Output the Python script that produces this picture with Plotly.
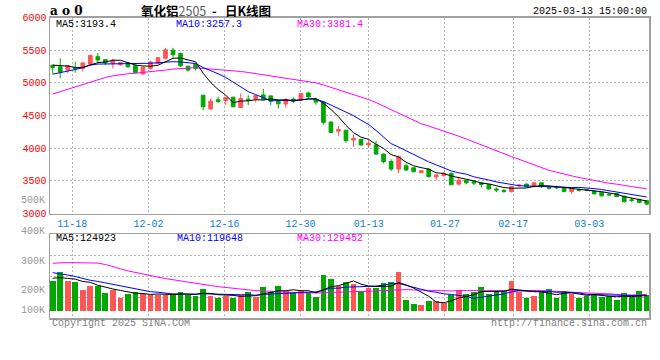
import plotly.graph_objects as go
import pandas as pd

# ---------------- data ----------------
dates = ["11-13", "11-14", "11-15", "11-18", "11-19", "11-20", "11-21", "11-22", "11-25", "11-26",
         "11-27", "11-28", "11-29", "12-02", "12-03", "12-04", "12-05", "12-06", "12-09", "12-10",
         "12-11", "12-12", "12-13", "12-16", "12-17", "12-18", "12-19", "12-20", "12-23", "12-24",
         "12-25", "12-26", "12-27", "12-30", "12-31", "01-02", "01-03", "01-06", "01-07", "01-08",
         "01-09", "01-10", "01-13", "01-14", "01-15", "01-16", "01-17", "01-20", "01-21", "01-22",
         "01-23", "01-24", "01-27", "02-05", "02-06", "02-07", "02-10", "02-11", "02-12", "02-13",
         "02-14", "02-17", "02-18", "02-19", "02-20", "02-21", "02-24", "02-25", "02-26", "02-27",
         "02-28", "03-03", "03-04", "03-05", "03-06", "03-07", "03-10", "03-11", "03-12", "03-13"]

opens = [5270, 5245, 5195, 5235, 5220, 5285, 5400, 5355, 5290, 5275,
         5305, 5265, 5135, 5220, 5295, 5375, 5500, 5450, 5255, 5285,
         4810, 4600, 4740, 4730, 4780, 4620, 4750, 4755, 4815, 4800,
         4720, 4675, 4750, 4735, 4845, 4750, 4705, 4400, 4260, 4275,
         4125, 4135, 4050, 4050, 3910, 3795, 3680, 3730, 3700, 3625,
         3680, 3560, 3580, 3615, 3450, 3510, 3485, 3470, 3445, 3375,
         3355, 3335, 3425, 3450, 3410, 3470, 3400, 3400, 3400, 3335,
         3370, 3365, 3345, 3325, 3295, 3305, 3265, 3210, 3215, 3195]
highs = [5275, 5375, 5270, 5325, 5315, 5430, 5455, 5360, 5370, 5320,
         5315, 5280, 5245, 5335, 5390, 5535, 5535, 5460, 5260, 5295,
         4815, 4760, 4790, 4785, 4785, 4840, 4810, 4810, 4910, 4805,
         4745, 4765, 4780, 4845, 4860, 4775, 4710, 4405, 4340, 4280,
         4210, 4140, 4120, 4115, 3915, 3830, 3885, 3765, 3705, 3660,
         3690, 3600, 3630, 3630, 3565, 3520, 3510, 3480, 3450, 3400,
         3370, 3420, 3450, 3460, 3480, 3475, 3420, 3425, 3405, 3400,
         3380, 3375, 3350, 3330, 3310, 3310, 3270, 3240, 3225, 3200]
lows = [5140, 5070, 5150, 5155, 5170, 5280, 5290, 5275, 5220, 5265,
        5235, 5145, 5130, 5205, 5290, 5370, 5385, 5245, 5170, 5190,
        4580, 4595, 4690, 4660, 4625, 4615, 4660, 4700, 4730, 4660,
        4610, 4620, 4690, 4725, 4760, 4665, 4360, 4235, 4190, 4085,
        4020, 4035, 4010, 3895, 3765, 3650, 3615, 3650, 3630, 3620,
        3550, 3510, 3565, 3435, 3425, 3445, 3435, 3400, 3365, 3330,
        3315, 3320, 3405, 3400, 3405, 3390, 3365, 3375, 3330, 3300,
        3335, 3340, 3295, 3260, 3270, 3250, 3170, 3175, 3160, 3130]
closes = [5235, 5165, 5265, 5210, 5305, 5420, 5350, 5305, 5345, 5310,
          5245, 5155, 5240, 5320, 5385, 5505, 5430, 5260, 5195, 5220,
          4635, 4720, 4715, 4775, 4635, 4760, 4735, 4805, 4750, 4720,
          4680, 4745, 4720, 4835, 4785, 4705, 4395, 4240, 4285, 4115,
          4150, 4050, 4075, 3910, 3795, 3680, 3870, 3665, 3640, 3655,
          3565, 3590, 3615, 3440, 3510, 3470, 3465, 3445, 3375, 3360,
          3340, 3410, 3435, 3410, 3470, 3410, 3390, 3395, 3335, 3385,
          3355, 3360, 3300, 3270, 3285, 3260, 3180, 3200, 3170, 3145]
volumes = [237000, 315000, 237000, 230000, 166000, 201000, 199000, 146000, 169000, 107000,
           138000, 148000, 136000, 131000, 124000, 124000, 138000, 154000, 128000, 120000,
           172000, 122000, 107000, 122000, 99000, 131000, 148000, 109000, 196000, 148000,
           203000, 156000, 144000, 162000, 146000, 115000, 290000, 261000, 203000, 234000,
           217000, 162000, 184000, 184000, 227000, 235000, 311000, 89000, 57000, 49000,
           81000, 75000, 62000, 130000, 170000, 138000, 148000, 189000, 135000, 157000,
           157000, 238000, 152000, 103000, 122000, 148000, 173000, 103000, 162000, 135000,
           103000, 122000, 130000, 115000, 116000, 84000, 144000, 111000, 157000, 130000]

# sessions before the first visible candle (estimated from the MA curves)
prior_closes = [4080, 4120, 4150, 4180, 4200, 4230,
                4450, 4600, 4750, 4850, 4900, 4950, 5000,
                5050, 5000, 4980, 5020, 4990, 5010, 5020,
                4950, 4980, 5000, 5010, 5030,
                5200, 5300, 5320, 5300]
prior_volumes = [200000, 210000, 230000, 220000, 240000, 220000,
                 480000, 620000, 700000, 650000, 560000, 520000, 500000,
                 480000, 470000, 450000, 440000, 430000, 430000, 420000,
                 380000, 360000, 350000, 340000, 335000,
                 290000, 270000, 260000, 260000]

tick_dates = ["11-18", "12-02", "12-16", "12-30", "01-13", "01-27", "02-17", "03-03"]
price_ticks = [3000, 3500, 4000, 4500, 5000, 5500, 6000]
vol_tick_labels = ["500K", "400K", "300K", "200K", "100K"]
price_ma_text = ["MA5:3193.4", "MA10:3257.3", "MA30:3381.4"]
vol_ma_text = ["MA5:124923", "MA10:119648", "MA30:129452"]
title_name = "氧化铝"
title_code = "2505"
title_kind = "日K线图"
stamp = "2025-03-13 15:00:00"

# ---------------- derived ----------------
n0 = len(prior_closes)
cs = pd.Series(prior_closes + closes)
vs = pd.Series(prior_volumes + volumes)
pma = {k: cs.rolling(k).mean().iloc[n0:].tolist() for k in (5, 10, 30)}
vma = {k: vs.rolling(k).mean().iloc[n0:].tolist() for k in (5, 10, 30)}
xs = list(range(len(dates)))

UP, DN = "#ff5555", "#00a800"
MA_COL = {5: "#000000", 10: "#0000ff", 30: "#ff00ff"}
GRID = "#b4b4b4"
FRAME = "#a0a0a0"
MONO = "Liberation Mono"

W, H = 660, 360
def fx(p): return p / W
def fy(p): return 1 - p / H

L_PX, R_PX = 50, 649
X0_PX, STEP = 52.7, 7.52
xr = [(L_PX - X0_PX) / STEP, (R_PX - X0_PX) / STEP]
grid_pos = [dates.index(d) * 1.011 - 0.42 for d in tick_dates]

VOL_BASE_PX, VOL_PER_PX = 310.7, 8110
vol_top, vol_bot = 234, 318
vr = [-(vol_bot - VOL_BASE_PX) * VOL_PER_PX, (VOL_BASE_PX - vol_top) * VOL_PER_PX]
vgrid = [vr[0] + f * (vr[1] - vr[0]) for f in (0.25, 0.5, 0.75)]

fig = go.Figure()
fig.add_trace(go.Candlestick(
    x=xs, open=opens, high=highs, low=lows, close=closes,
    increasing=dict(line=dict(color=UP, width=1), fillcolor=UP),
    decreasing=dict(line=dict(color=DN, width=1), fillcolor=DN),
    whiskerwidth=0, xaxis="x", yaxis="y", hoverinfo="skip"))
for k in (30, 10, 5):
    fig.add_trace(go.Scatter(x=xs, y=pma[k], mode="lines",
                             line=dict(color=MA_COL[k], width=1),
                             xaxis="x", yaxis="y", hoverinfo="skip"))
fig.add_trace(go.Bar(x=xs, y=volumes, width=0.76,
                     marker=dict(color=[UP if c >= o else DN for o, c in zip(opens, closes)],
                                 line=dict(width=0)),
                     xaxis="x2", yaxis="y2", hoverinfo="skip"))
for k in (30, 10, 5):
    fig.add_trace(go.Scatter(x=xs, y=vma[k], mode="lines",
                             line=dict(color=MA_COL[k], width=1),
                             xaxis="x2", yaxis="y2", hoverinfo="skip"))

axis_common = dict(showline=True, mirror=True, linecolor=FRAME, linewidth=1.5,
                   showgrid=True, gridcolor=GRID, gridwidth=1, griddash="2px,2px",
                   zeroline=False, ticks="", automargin=False, fixedrange=True)

fig.update_layout(
    template="none", width=W, height=H, showlegend=False,
    margin=dict(l=0, r=0, t=0, b=0),
    paper_bgcolor="white", plot_bgcolor="white",
    bargap=0, boxgap=0.3,
    xaxis=dict(axis_common, domain=[fx(L_PX), fx(R_PX)], range=xr, anchor="y",
               tickmode="array", tickvals=grid_pos, ticktext=tick_dates,
               tickfont=dict(family=MONO, size=10, color="#0a80d8"),
               rangeslider=dict(visible=False)),
    yaxis=dict(axis_common, domain=[fy(213.5), fy(17.5)], range=[price_ticks[0], price_ticks[-1]],
               anchor="x", tickmode="array", tickvals=price_ticks,
               ticktext=[str(t) for t in price_ticks],
               tickfont=dict(family=MONO, size=10, color="#ff0000")),
    xaxis2=dict(axis_common, domain=[fx(L_PX), fx(R_PX)], range=xr, anchor="y2", matches="x",
                tickmode="array", tickvals=grid_pos, showticklabels=False,
                rangeslider=dict(visible=False)),
    yaxis2=dict(axis_common, domain=[fy(vol_bot), fy(vol_top)], range=vr, anchor="x2",
                tickmode="array", tickvals=vgrid, showticklabels=False),
)

ann = []
def text(x, y, s, color="#000", size=10, anchor="left", family=MONO):
    ann.append(dict(x=fx(x), y=fy(y), xref="paper", yref="paper", text=s, showarrow=False,
                    xanchor=anchor, yanchor="middle",
                    font=dict(family=family, size=size, color=color)))

NB = "\u00a0"
# header
text(48, 11, "<b>a" + NB + "o" + NB + "0</b>", size=12, family="DejaVu Serif")
text(139, 10, "<b>" + title_name + "</b><span style='color:#606060;font-weight:normal'>"
     + title_code + "</span>" + NB + NB + "<b>-" + NB + NB + NB + title_kind + "</b>", size=12.5,
     family="Noto Sans CJK SC")
text(649, 12, stamp, anchor="right")
# MA legends
for s, x, k in zip(price_ma_text, (54, 174, 295), (5, 10, 30)):
    text(x, 24.5, s, color=MA_COL[k])
for s, x, k in zip(vol_ma_text, (54, 175, 295), (5, 10, 30)):
    text(x, 238.5, s, color=MA_COL[k])
# volume axis labels
for s, y in zip(vol_tick_labels, (200, 231, 261, 290, 310)):
    text(47, y, s, color="#999999", anchor="right")
# footer
text(50, 323.5, "Copyright 2025 SINA.COM", color="#808080")
text(649, 323.5, "http://finance.sina.com.cn", color="#808080", anchor="right")

fig.update_layout(annotations=ann)
fig.write_html("out.html", config={"displayModeBar": False, "staticPlot": True},
               post_script="document.body.style.margin='0';document.body.style.overflow='hidden';")
